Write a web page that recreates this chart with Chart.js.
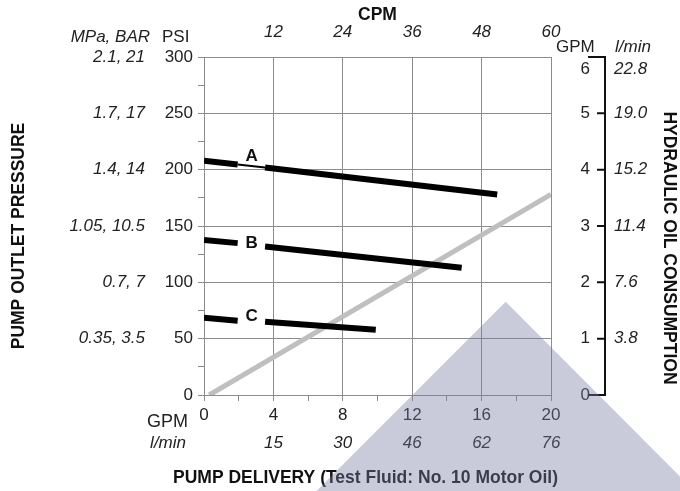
<!DOCTYPE html>
<html>
<head>
<meta charset="utf-8">
<title>Pump delivery / outlet pressure</title>
<script src="https://cdn.jsdelivr.net/npm/chart.js@4.4.1/dist/chart.umd.min.js"></script>
<style>
  body { margin: 0; background: #fff; }
  #wrap { width: 680px; height: 491px; position: relative; }
</style>
</head>
<body>
<div id="wrap"><canvas id="pumpChart"></canvas></div>
<script>
// tick labels
const lpmLabels = ['', '15', '30', '46', '62', '76'];           // bottom, per 4 GPM
const cpmLabels = ['', '12', '24', '36', '48', '60'];           // top, per 4 GPM
const barLabels = ['', '0.35, 3.5', '0.7, 7', '1.05, 10.5', '1.4, 14', '1.7, 17', '2.1, 21'];
const oilGpmLabels = ['0', '1', '2', '3', '4', '5', '6'];
const oilLpmLabels = ['', '3.8', '7.6', '11.4', '15.2', '19.0', '22.8'];

// pressure curves (GPM, PSI) - second segment is the gap / label spot
const lineA_gpm = [0, 1.94, 3.52, 16.9];
const lineA_psi = [208, 204.6, 202, 178];
const lineB_gpm = [0, 1.94, 3.52, 14.85];
const lineB_psi = [137.6, 134.8, 131.8, 113];
const lineC_gpm = [0, 1.94, 3.52, 9.9];
const lineC_psi = [68.5, 66, 65, 58];

// hydraulic oil consumption (pump GPM -> oil GPM)
const oil_gpm = [0.3, 20];
const oil_use = [0, 3.56];

const curveNames = ['A', 'B', 'C'];
const curveLabelGpm = [2.74, 2.74, 2.74];
const curveLabelPsi = [212, 134.5, 69.5];

const FONT = '"Liberation Sans", Arial, Helvetica, sans-serif';
Chart.defaults.font.family = FONT;
Chart.defaults.color = '#222';

const GRID = '#8c8c8c';

function pts(xs, ys) {
    return xs.map((x, i) => ({ x: x, y: ys[i] }));
}

function setWidth(w) { return function (scale) { scale.width = w; }; }
function setHeight(h) { return function (scale) { scale.height = h; }; }

const decorPlugin = {
    id: 'decor',
    afterDatasetsDraw(chart) {
        const ctx = chart.ctx;
        const xs = chart.scales.x, ys = chart.scales.y, y2 = chart.scales.y2;
        ctx.save();
        // curve letters
        ctx.font = 'bold 17px ' + FONT;
        ctx.textAlign = 'center';
        ctx.textBaseline = 'middle';
        ctx.fillStyle = '#111';
        curveNames.forEach((n, i) => {
            ctx.fillText(n, xs.getPixelForValue(curveLabelGpm[i]), ys.getPixelForValue(curveLabelPsi[i]));
        });
        // free standing consumption axis
        const ax = chart.chartArea.right + 54;
        const top = y2.getPixelForValue(6), bot = y2.getPixelForValue(0);
        ctx.strokeStyle = '#111';
        ctx.lineWidth = 2;
        ctx.beginPath();
        ctx.moveTo(ax - 17, top); ctx.lineTo(ax, top); ctx.lineTo(ax, bot); ctx.lineTo(ax - 17, bot);
        for (let v = 1; v <= 5; v++) {
            const py = y2.getPixelForValue(v);
            ctx.moveTo(ax - 8, py); ctx.lineTo(ax, py);
        }
        ctx.stroke();
        ctx.restore();
    },
    afterDraw(chart) {
        const ctx = chart.ctx;
        const ca = chart.chartArea;
        const midY = (ca.top + ca.bottom) / 2;
        const txt = (s, x, y, font, align) => {
            ctx.font = font;
            ctx.textAlign = align;
            ctx.textBaseline = 'middle';
            ctx.fillText(s, x, y);
        };
        ctx.save();
        ctx.fillStyle = '#222';
        const reg = '17px ' + FONT, ital = 'italic 17px ' + FONT, bold = 'bold 17.5px ' + FONT;
        txt('MPa, BAR', ca.left - 54, ca.top - 20, ital, 'right');
        txt('PSI', ca.left - 42, ca.top - 20, reg, 'left');
        txt('GPM', ca.right + 5, ca.top - 10, reg, 'left');
        txt('l/min', ca.right + 64, ca.top - 10, ital, 'left');
        // top value of the consumption axis sits below its corner
        const y6 = chart.scales.y2.getPixelForValue(6) + 12;
        txt(oilGpmLabels[6], ca.right + 39, y6, reg, 'right');
        txt(oilLpmLabels[6], ca.right + 63, y6, ital, 'left');
        txt('GPM', ca.left - 16, ca.bottom + 27, '18px ' + FONT, 'right');
        txt('l/min', ca.left - 18, ca.bottom + 48, ital, 'right');
        ctx.fillStyle = '#111';
        txt('PUMP DELIVERY (Test Fluid: No. 10 Motor Oil)', (ca.left + ca.right) / 2 - 12, 478, bold, 'center');

        ctx.save();
        ctx.translate(19, midY + 10);
        ctx.rotate(-Math.PI / 2);
        txt('PUMP OUTLET PRESSURE', 0, 0, bold, 'center');
        ctx.restore();

        ctx.save();
        ctx.translate(668.5, midY + 22);
        ctx.rotate(Math.PI / 2);
        txt('HYDRAULIC OIL CONSUMPTION', 0, 0, bold, 'center');
        ctx.restore();

        // watermark triangle
        ctx.fillStyle = 'rgba(120, 125, 165, 0.4)';
        ctx.beginPath();
        ctx.moveTo(505.7, 301.7);
        ctx.lineTo(316.5, 491);
        ctx.lineTo(680, 491);
        ctx.lineTo(680, 476.5);
        ctx.closePath();
        ctx.fill();
        ctx.restore();
    }
};

const gapColor = ctx => ctx.p0DataIndex === 1 ? 'rgba(0,0,0,0)' : undefined;

new Chart(document.getElementById('pumpChart'), {
    type: 'line',
    data: {
        datasets: [
            {
                label: 'A', data: pts(lineA_gpm, lineA_psi), yAxisID: 'y',
                borderColor: '#000', borderWidth: 6,
                segment: { borderWidth: ctx => ctx.p0DataIndex === 1 ? 2 : undefined }
            },
            {
                label: 'B', data: pts(lineB_gpm, lineB_psi), yAxisID: 'y',
                borderColor: '#000', borderWidth: 6,
                segment: { borderColor: gapColor }
            },
            {
                label: 'C', data: pts(lineC_gpm, lineC_psi), yAxisID: 'y',
                borderColor: '#000', borderWidth: 6,
                segment: { borderColor: gapColor }
            },
            {
                label: 'Oil consumption', data: pts(oil_gpm, oil_use), yAxisID: 'y2',
                borderColor: '#bfbfbf', borderWidth: 5
            }
        ]
    },
    options: {
        responsive: true,
        maintainAspectRatio: false,
        animation: false,
        layout: { padding: 0 },
        elements: { point: { radius: 0 }, line: { tension: 0, borderCapStyle: 'butt' } },
        plugins: { legend: { display: false }, tooltip: { enabled: false } },
        scales: {
            x: {
                type: 'linear', position: 'bottom', weight: 0, min: 0, max: 20,
                afterFit: setHeight(36),
                grid: {
                    color: c => c.tick.value % 4 === 0 ? GRID : 'rgba(0,0,0,0)',
                    tickColor: GRID, tickLength: 6
                },
                border: { color: GRID },
                ticks: {
                    stepSize: 2, autoSkip: false, maxRotation: 0, padding: 4,
                    font: { size: 17 },
                    callback: v => v % 4 === 0 ? String(v) : ''
                }
            },
            xL: {
                type: 'linear', position: 'bottom', weight: 1, min: 0, max: 20,
                afterFit: setHeight(60),
                grid: { display: false, drawTicks: false },
                border: { display: false },
                ticks: {
                    stepSize: 4, autoSkip: false, maxRotation: 0, padding: 2,
                    font: { size: 17, style: 'italic' },
                    callback: (v, i) => lpmLabels[i]
                }
            },
            xTop: {
                type: 'linear', position: 'top', min: 0, max: 20,
                afterFit: setHeight(57),
                grid: { display: false, drawTicks: false },
                border: { display: false },
                title: {
                    display: true, text: 'CPM', color: '#111',
                    font: { size: 17.5, weight: 'bold' }, padding: { top: 5, bottom: 0 }
                },
                ticks: {
                    stepSize: 4, autoSkip: false, maxRotation: 0, padding: 15,
                    font: { size: 17, style: 'italic' },
                    callback: (v, i) => cpmLabels[i]
                }
            },
            y: {
                type: 'linear', position: 'left', weight: 0, min: 0, max: 300,
                afterFit: setWidth(50),
                grid: {
                    color: c => c.tick.value % 50 === 0 ? GRID : 'rgba(0,0,0,0)',
                    tickColor: GRID, tickLength: 6
                },
                border: { color: GRID },
                ticks: {
                    stepSize: 25, autoSkip: false, padding: 5,
                    font: { size: 17 },
                    callback: v => v % 50 === 0 ? String(v) : ''
                }
            },
            yBar: {
                type: 'linear', position: 'left', weight: 1, min: 0, max: 300,
                afterFit: setWidth(154),
                grid: { display: false, drawTicks: false },
                border: { display: false },
                ticks: {
                    stepSize: 50, autoSkip: false, padding: 9,
                    font: { size: 17, style: 'italic' },
                    callback: (v, i) => barLabels[i]
                }
            },
            y2: {
                type: 'linear', position: 'right', weight: 0, min: 0, max: 6,
                afterFit: setWidth(39),
                grid: { display: false, drawTicks: false },
                border: { display: false },
                ticks: {
                    stepSize: 1, autoSkip: false, crossAlign: 'far',
                    font: { size: 17 },
                    callback: (v, i) => i === 6 ? '' : oilGpmLabels[i]
                }
            },
            y3: {
                type: 'linear', position: 'right', weight: 1, min: 0, max: 6,
                afterFit: setWidth(90),
                grid: { display: false, drawTicks: false },
                border: { display: false },
                ticks: {
                    stepSize: 1, autoSkip: false, padding: 24,
                    font: { size: 17, style: 'italic' },
                    callback: (v, i) => i === 6 ? '' : oilLpmLabels[i]
                }
            }
        }
    },
    plugins: [decorPlugin]
});
</script>
</body>
</html>
